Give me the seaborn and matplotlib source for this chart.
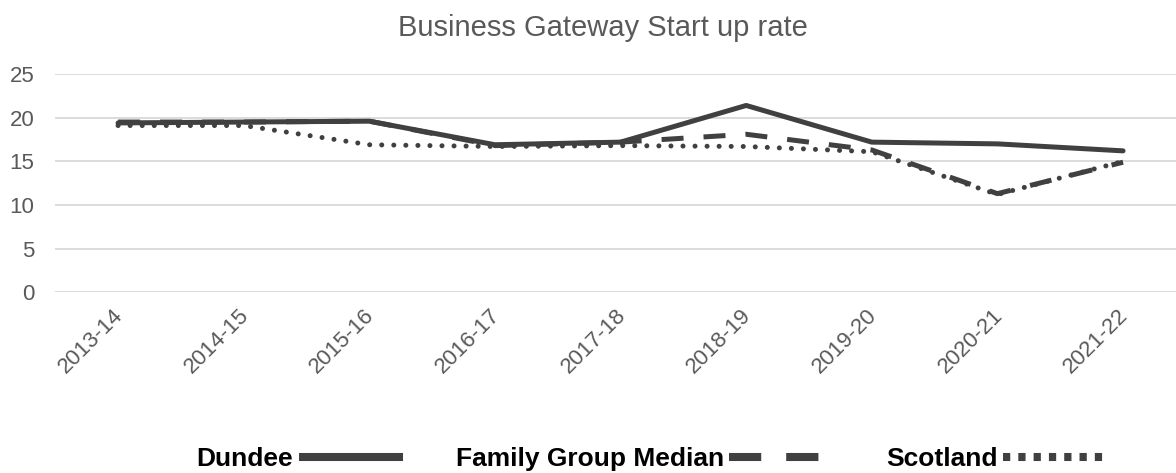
import seaborn as sns
import matplotlib.pyplot as plt
import matplotlib.transforms as mtransforms
import pandas as pd

years = ['2013-14', '2014-15', '2015-16', '2016-17', '2017-18',
         '2018-19', '2019-20', '2020-21', '2021-22']
dundee = [19.4, 19.5, 19.6, 16.9, 17.2, 21.4, 17.2, 17.0, 16.2]
family_median = [19.5, 19.5, 19.6, 16.8, 17.2, 18.1, 16.3, 11.3, 14.9]
scotland = [19.1, 19.1, 16.9, 16.7, 16.8, 16.7, 16.1, 11.2, 15.0]

df = pd.DataFrame({'year': years, 'Dundee': dundee,
                   'Family Group Median': family_median, 'Scotland': scotland})

sns.set_style('white')
plt.rcParams['font.family'] = ['Liberation Sans', 'DejaVu Sans']

fig = plt.figure(figsize=(11.76, 4.73), dpi=100)
# plot area runs a little past the right edge, as in the original export
ax = fig.add_axes([0.047, 0.382, 0.9614, 0.4615])

col = '#404040'
lw = 3.6
sns.lineplot(data=df, x='year', y='Dundee', ax=ax, color=col, lw=lw,
             label='Dundee', sort=False)
sns.lineplot(data=df, x='year', y='Family Group Median', ax=ax, color=col, lw=lw,
             linestyle=(0, (4.4, 4.0)), label='Family Group Median', sort=False)
sns.lineplot(data=df, x='year', y='Scotland', ax=ax, color=col, lw=lw,
             linestyle=(0, (0.01, 2.4)), dash_capstyle='round',
             label='Scotland', sort=False)

ax.set_xlim(-0.5, 8.5)
ax.set_ylim(0, 25)
ax.set_yticks([0, 5, 10, 15, 20, 25])
ax.grid(axis='y', color='#d9d9d9', lw=1.3)
ax.grid(axis='x', visible=False)
for s in ax.spines.values():
    s.set_visible(False)
ax.set_xlabel('')
ax.set_ylabel('')
ax.tick_params(axis='both', length=0, labelsize=16, colors='#595959')
ax.tick_params(axis='y', pad=15)
ax.tick_params(axis='x', pad=9)
shift = mtransforms.ScaledTranslation(-4 / 72, 0, fig.dpi_scale_trans)
for lab in ax.get_xticklabels():
    lab.set_rotation(45)
    lab.set_ha('right')
    lab.set_rotation_mode('anchor')
    lab.set_transform(lab.get_transform() + shift)

fig.text(0.513, 0.94, 'Business Gateway Start up rate', ha='center', va='center',
         fontsize=21, color='#595959')

handles, labels = ax.get_legend_handles_labels()
leg = ax.legend(handles, labels, loc='center left', bbox_to_anchor=(0.156, 0.030),
                bbox_transform=fig.transFigure, ncol=3, frameon=False,
                borderpad=0, markerfirst=False, handlelength=3.95,
                handletextpad=0.2, columnspacing=2.0,
                prop={'weight': 'bold', 'size': 19})
for t in leg.get_texts():
    t.set_color('black')
lines = leg.get_lines()
for h in lines:
    h.set_linewidth(5.8)
    h.set_solid_capstyle('butt')
    h.set_dash_capstyle('butt')
lines[1].set_linestyle((0, (4.0, 3.1)))
lines[2].set_linestyle((0, (0.9, 1.0)))

fig.savefig('out.png', dpi=100)
